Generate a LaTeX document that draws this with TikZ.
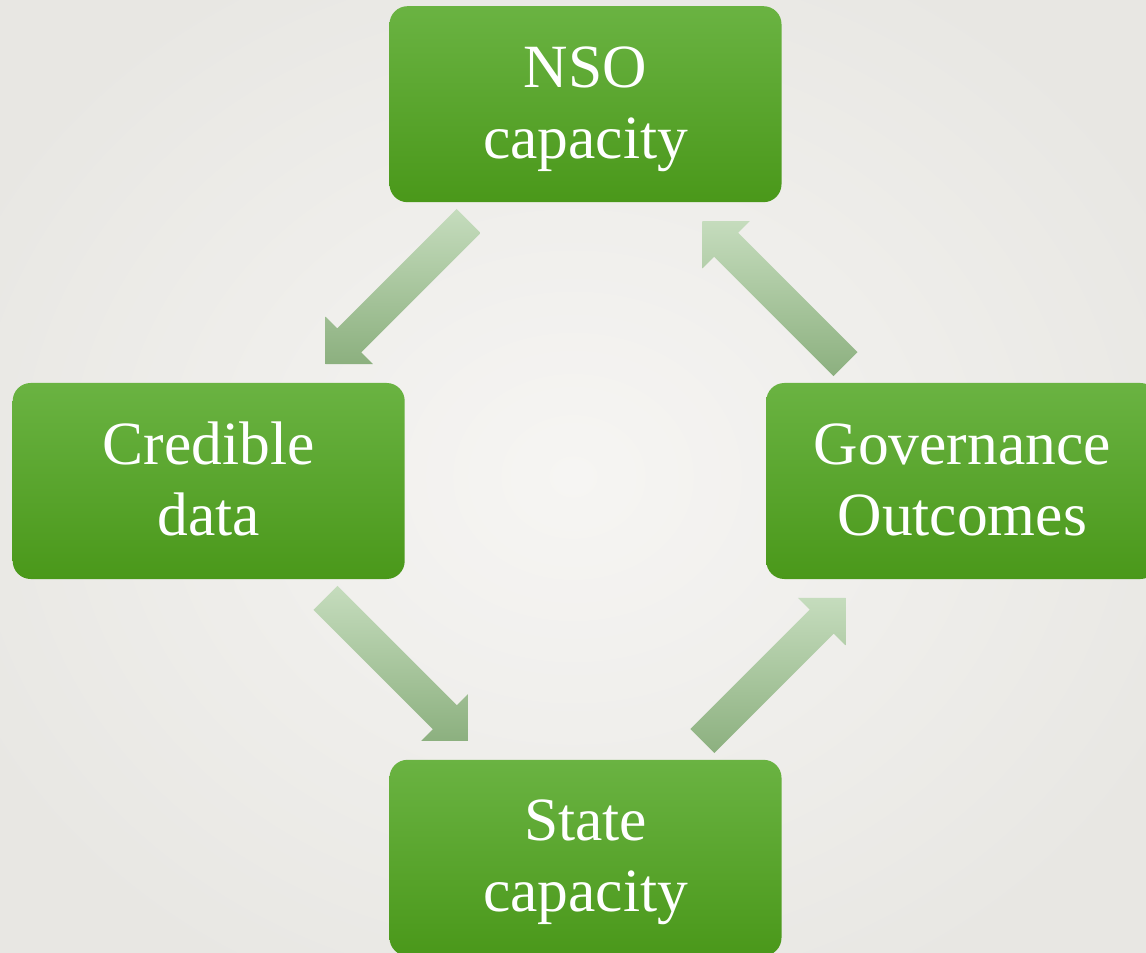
\documentclass[tikz,border=0pt]{standalone}
\usepackage{fontspec}
\setmainfont{Liberation Serif}
\usetikzlibrary{positioning,calc}

\definecolor{boxtop}{RGB}{106,179,66}
\definecolor{boxbottom}{RGB}{74,152,26}
\definecolor{flowtop}{RGB}{197,220,189}
\definecolor{flowbottom}{RGB}{140,176,127}
\definecolor{bginner}{RGB}{246,245,243}
\definecolor{bgouter}{RGB}{232,231,227}

\begin{document}
\begin{tikzpicture}[align=center, on grid, node distance=7.536cm and 7.536cm]
    \tikzset{
        n/.style        =   { rectangle
                            , rounded corners=0.36cm
                            , top color=boxtop
                            , bottom color=boxbottom
                            , text=white
                            , font=\fontsize{35}{40.3}\selectfont
                            , inner sep=0pt
                            , minimum width=7.84cm
                            , minimum height=3.92cm
                            , text height=3.04cm
                            , text depth=0.88cm
        }
        , flow/.style   =   { top color=flowtop
                            , bottom color=flowbottom
        }
    }
    \useasboundingbox (0,0) rectangle (22.92,-19.06);
    \clip (0,0) rectangle (22.92,-19.06);
    \shade[inner color=bginner, outer color=bgouter] (-2,2) rectangle (24.92,-21.06);

    \node(1)[n] at (11.71,-2.084)   {NSO\\capacity};
    \node(2)[n, below left=of 1]    {Credible\\data};
    \node(4)[n, below right=of 1]   {Governance\\Outcomes};
    \node(3)[n, below right=of 2]   {State\\capacity};

    \foreach \a/\b in {1/2, 2/3, 3/4, 4/1} {
        \coordinate (t) at ($(\a)!0.31!(\b)$);
        \coordinate (p) at ($(\a)!0.69!(\b)$);
        \coordinate (m) at ($(p)!0.672cm!(t)$);
        \shade[flow] ($(t)!0.34cm!90:(p)$) -- ($(m)!0.34cm!90:(p)$)
            -- ($(m)!0.67cm!90:(p)$) -- (p) -- ($(m)!0.67cm!-90:(p)$)
            -- ($(m)!0.34cm!-90:(p)$) -- ($(t)!0.34cm!-90:(p)$) -- cycle;
    }
\end{tikzpicture}
\end{document}
